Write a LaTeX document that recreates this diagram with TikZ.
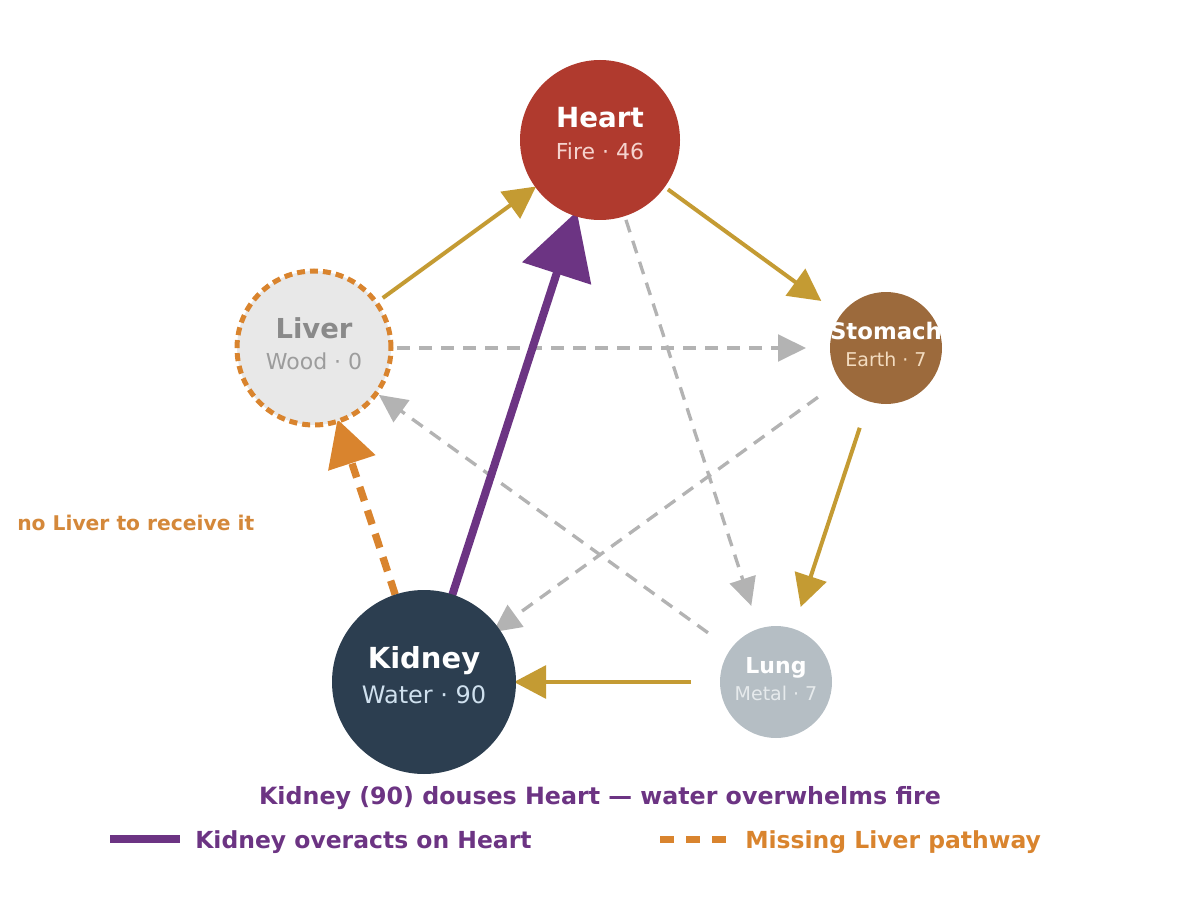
\documentclass[tikz,border=0pt]{standalone}
\usepackage{fontspec}
\setmainfont{DejaVu Sans}
\usetikzlibrary{arrows.meta,calc}
\pgfdeclarelayer{bg}
\pgfsetlayers{bg,main}
\definecolor{heartc}{HTML}{B03A2E}
\definecolor{heartsub}{HTML}{F5D3CE}
\definecolor{liverfill}{HTML}{E8E8E8}
\definecolor{livertxt}{HTML}{8A8A8A}
\definecolor{liversub}{HTML}{9C9C9C}
\definecolor{stomc}{HTML}{9C6A3C}
\definecolor{stomsub}{HTML}{F3DCC0}
\definecolor{lungc}{HTML}{B5BEC4}
\definecolor{lungsub}{HTML}{E6EAEC}
\definecolor{kidc}{HTML}{2C3E50}
\definecolor{kidsub}{HTML}{CFE0EE}
\definecolor{goldc}{HTML}{C49B33}
\definecolor{grayc}{HTML}{B3B3B3}
\definecolor{purp}{HTML}{6C3483}
\definecolor{orng}{HTML}{D9842E}
\definecolor{orngtxt}{HTML}{D4883A}
\begin{document}
\begin{tikzpicture}[x=0.75pt,y=-0.75pt,
  organ/.style={circle,inner sep=0pt,outer sep=0pt},
  lbl/.style={anchor=base,inner sep=0pt,outer sep=0pt},
  gen/.style={draw=goldc,line width=3pt,-{Triangle[length=24pt,width=24.5pt]}},
  ctrl/.style={draw=grayc,line width=2.5pt,dash pattern=on 9.75pt off 6.75pt,-{Triangle[length=21pt,width=20pt]}},
  over/.style={draw=purp,line width=6pt,-{Triangle[length=49pt,width=53pt]}},
  miss/.style={draw=orng,line width=5.5pt,dash pattern=on 11pt off 7.5pt,-{Triangle[length=34.5pt,width=36pt]}}]
\useasboundingbox (0,0) rectangle (1200,920);
% organs
\node[organ,fill=heartc,minimum size=120pt] (H) at (600,140) {};
\node[organ,fill=liverfill,draw=orng,line width=3.75pt,dash pattern=on 6pt off 3.75pt,minimum size=115.5pt] (L) at (314,348) {};
\node[organ,fill=stomc,minimum size=84pt] (S) at (886,348) {};
\node[organ,fill=lungc,minimum size=84pt] (U) at (776,682) {};
\node[organ,fill=kidc,minimum size=138pt] (K) at (424,682) {};
% labels
\node[lbl,text=white] (Ht) at (600,128) {\fontsize{20.8pt}{24pt}\selectfont\bfseries Heart};
\node[lbl,text=heartsub] (Hs) at (600,160) {\fontsize{16.5pt}{20pt}\selectfont Fire · 46};
\node[lbl,text=livertxt] (Lt) at (314,338) {\fontsize{20.6pt}{24pt}\selectfont\bfseries Liver};
\node[lbl,text=liversub] (Ls) at (314,369) {\fontsize{16.5pt}{20pt}\selectfont Wood · 0};
\node[lbl,text=white] (St) at (886,339) {\fontsize{17.1pt}{20pt}\selectfont\bfseries Stomach};
\node[lbl,text=stomsub] (Ss) at (886,366) {\fontsize{14.25pt}{17pt}\selectfont Earth · 7};
\node[lbl,text=white] (Ut) at (776,673) {\fontsize{16.5pt}{20pt}\selectfont\bfseries Lung};
\node[lbl,text=lungsub] (Us) at (776,700) {\fontsize{14.25pt}{17pt}\selectfont Metal · 7};
\node[lbl,text=white] (Kt) at (424,668) {\fontsize{21.75pt}{26pt}\selectfont\bfseries Kidney};
\node[lbl,text=kidsub] (Ks) at (424,703) {\fontsize{18pt}{22pt}\selectfont Water · 90};
% connectors
\begin{pgfonlayer}{bg}
\draw[ctrl] ($(L.center)!62.25pt!(S.center)$) -- ($(S.center)!60pt!(L.center)$);
\draw[ctrl] ($(H.center)!63pt!(U.center)$) -- ($(U.center)!60pt!(H.center)$);
\draw[ctrl] ($(S.center)!63pt!(K.center)$) -- ($(K.center)!63.75pt!(S.center)$);
\draw[ctrl] ($(U.center)!63pt!(L.center)$) -- ($(L.center)!60pt!(U.center)$);
\draw[gen] ($(L.center)!63.75pt!(H.center)$) -- ($(H.center)!59.25pt!(L.center)$);
\draw[gen] ($(H.center)!63pt!(S.center)$) -- ($(S.center)!60pt!(H.center)$);
\draw[gen] ($(S.center)!63pt!(U.center)$) -- ($(U.center)!59.25pt!(S.center)$);
\draw[gen] ($(U.center)!63.75pt!(K.center)$) -- ($(K.center)!67.5pt!(U.center)$);
\draw[over] ($(K.center)!66.75pt!(H.center)$) -- ($(H.center)!56.25pt!(K.center)$);
\draw[miss] ($(K.center)!69pt!(L.center)$) -- ($(L.center)!56.25pt!(K.center)$);
\end{pgfonlayer}
% annotation
\node[anchor=base west,inner sep=0pt,text=orngtxt] (note) at (17,530) {\fontsize{15.2pt}{18pt}\selectfont\bfseries no Liver to receive it};
% title and legend
\node[lbl,text=purp] (title) at (600,804) {\fontsize{17.8pt}{21pt}\selectfont\bfseries Kidney (90) douses Heart — water overwhelms fire};
\coordinate (la) at (110,839);
\coordinate (lb) at (180,839);
\draw[draw=purp,line width=6pt] (la) -- (lb);
\node[anchor=base west,inner sep=0pt,text=purp] (lat) at (195,848) {\fontsize{17.6pt}{21pt}\selectfont\bfseries Kidney overacts on Heart};
\coordinate (lc) at (660,839);
\coordinate (ld) at (727,839);
\draw[draw=orng,line width=5.25pt,dash pattern=on 10.5pt off 9pt] (lc) -- (ld);
\node[anchor=base west,inner sep=0pt,text=orng] (lct) at (745,848) {\fontsize{17.6pt}{21pt}\selectfont\bfseries Missing Liver pathway};
\end{tikzpicture}
\end{document}
